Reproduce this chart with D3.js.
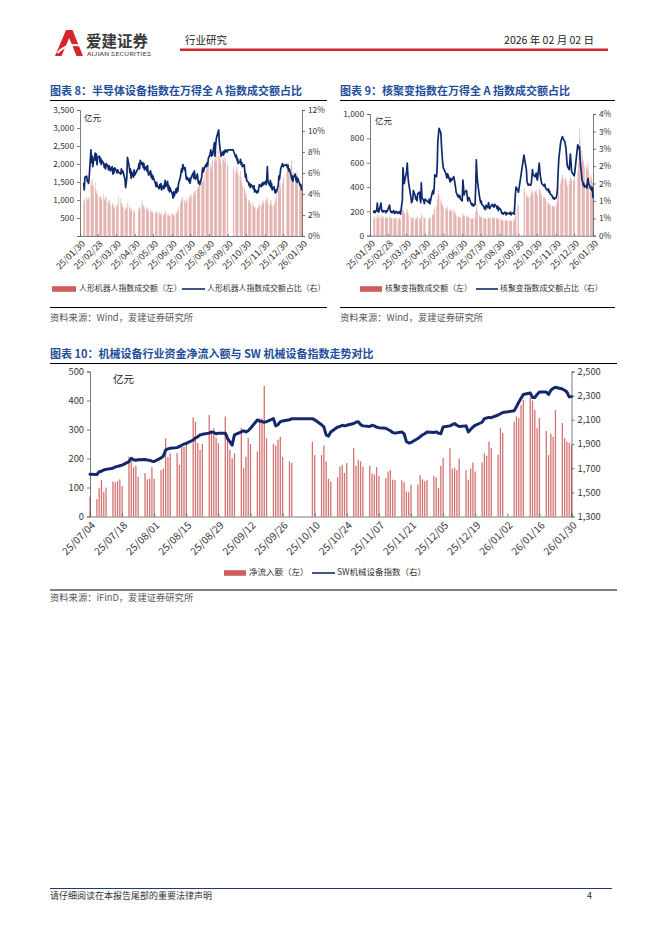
<!DOCTYPE html>
<html><head><meta charset="utf-8">
<script src="https://cdn.jsdelivr.net/npm/d3@7/dist/d3.min.js"></script>
<style>
body{margin:0;background:#fff;}
svg{display:block;font-family:"Noto Sans CJK SC","Noto Sans",sans-serif;}
</style></head><body>
<svg id="page" width="662" height="936"></svg>
<script>
// ---------------- DATA ----------------
// exchange holidays (weekdays without trading)
const holidays = ["2025-04-04","2025-05-01","2025-05-02","2025-05-05","2025-06-02",
  "2025-10-01","2025-10-02","2025-10-03","2025-10-06","2025-10-07","2025-10-08",
  "2026-01-01","2026-01-02"];

// Chart 8 axis labels
const c8TickLabels = ["25/01/30","25/02/28","25/03/30","25/04/30","25/05/30","25/06/30","25/07/30",
  "25/08/30","25/09/30","25/10/30","25/11/30","25/12/30","26/01/30"];
const c8LeftTicks = [0,500,1000,1500,2000,2500,3000,3500];
const c8RightTicks = [0,2,4,6,8,10,12];
// 指数成交额 (亿元), trading days 2025-02-05 .. 2026-01-30
const semiAmount = [
  1000,950,1050,1080,1020,990,1040,1100,1550,1400,1590,1450,1380,1500,1300,1250,1180,1150,
  1100,1050,1120,1000,1080,1170,1020,980,1050,1100,960,900,980,1000,850,920,880,800,860,760,820,
  900,850,1100,1050,920,880,840,800,760,720,780,800,920,850,780,740,700,760,680,720,650,
  700,800,820,760,1000,900,850,800,760,820,720,780,700,680,740,660,700,640,680,
  660,620,700,640,600,680,620,580,650,600,560,620,700,650,600,560,620,540,580,600,
  620,560,600,580,640,620,700,680,800,900,950,1050,1000,1080,1000,950,920,1000,1050,980,1100,1050,1120,
  1150,1100,1200,1250,1180,1280,1300,1350,1380,1450,1400,1500,1550,1480,1570,1700,1800,1900,1850,2000,1950,
  1900,2000,1850,2050,2100,2150,2050,2200,2100,2350,2410,2200,2100,2250,2000,2150,2100,2200,2050,2150,2000,1950,
  1900,1850,1800,1920,1700,1850,1750,1660,1800,1550,1480,1400,1350,1300,1200,1150,1050,
  1000,950,1000,900,880,950,850,820,760,800,720,780,800,850,900,820,880,950,1000,900,
  950,1000,1080,1020,900,850,950,1000,880,820,900,860,950,1050,1200,1300,1250,1400,1470,1350,1450,1550,1640,
  1800,1900,2060,2000,1850,1950,2110,1750,1600,1800,1650,1700,1550,1830,1600,1500,1450,1380,1400,1450];
// 成交额占比 (%)
const semiShare = [
  5.0,4.4,5.6,5.7,5.2,5.3,5.0,5.5,8.2,7.0,7.6,6.6,7.0,7.9,7.2,7.8,6.8,7.5,
  7.6,7.0,7.4,6.8,7.2,6.9,6.5,6.8,6.4,6.9,6.6,6.3,6.7,6.5,6.2,6.6,5.9,6.4,6.0,6.5,6.2,
  6.0,6.3,6.1,5.9,6.4,6.0,6.2,6.1,5.4,4.6,5.0,5.6,7.5,6.6,6.0,6.4,5.5,6.1,5.6,6.3,5.8,
  6.5,6.9,6.4,7.2,6.8,7.0,6.5,6.9,6.3,6.6,6.2,6.7,6.0,5.8,6.2,5.6,5.9,5.4,5.7,
  5.0,4.7,5.1,4.8,4.5,4.9,4.6,5.0,4.4,4.8,4.5,4.9,5.3,4.7,5.2,4.4,4.8,4.2,4.6,4.1,
  4.0,3.6,4.2,3.8,4.5,4.1,4.6,4.3,5.0,5.6,6.0,6.4,6.1,6.8,6.3,6.5,5.8,5.4,5.6,5.2,5.5,5.0,5.4,
  5.6,6.0,5.5,6.2,5.7,5.4,5.9,5.3,5.0,5.2,4.9,5.6,6.2,6.5,6.1,6.4,6.8,6.6,7.0,6.7,7.4,
  7.8,8.2,7.6,8.0,7.7,8.9,7.6,8.6,9.2,9.5,10.1,9.0,8.4,8.1,7.6,8.0,7.7,8.1,7.9,8.2,8.0,8.2,
  8.2,8.0,7.5,7.7,7.2,7.4,6.9,7.1,7.3,6.8,7.0,6.6,6.8,6.1,5.6,5.9,5.3,
  5.1,4.8,5.0,4.6,4.9,4.7,4.5,4.8,4.2,4.4,4.1,4.3,4.2,4.6,4.9,4.7,5.0,4.8,5.1,4.9,
  5.2,4.9,5.4,6.6,5.2,4.8,5.3,4.6,5.0,4.4,4.7,4.3,4.1,4.4,4.2,4.8,5.7,5.4,5.9,6.4,6.9,6.6,6.7,
  6.8,6.5,6.7,6.2,6.4,5.8,5.4,5.7,5.2,5.6,5.9,5.3,5.6,5.1,5.5,5.0,4.8,4.9,4.5,4.4];

// Chart 9
const c9TickLabels = c8TickLabels;
const c9LeftTicks = [0,200,400,600,800,1000];
const c9RightTicks = [0,0.5,1,1.5,2,2.5,3,3.5];
const fusionAmount = [
  150,140,160,150,170,140,150,160,170,150,140,150,160,145,150,155,140,150,
  160,150,140,150,140,150,140,135,145,150,140,135,150,140,135,200,230,210,190,180,200,
  220,190,170,160,140,150,145,150,140,135,150,140,160,150,140,135,180,160,150,145,150,
  140,150,140,150,170,180,170,210,230,240,300,330,370,340,300,280,260,250,230,
  230,220,210,240,210,200,220,200,210,220,200,190,180,160,150,160,150,155,145,150,
  190,170,160,165,170,160,150,155,150,145,140,140,145,140,145,200,260,230,200,170,160,150,155,
  150,145,140,145,135,150,140,155,145,140,145,150,145,150,140,150,145,140,145,130,140,
  135,130,125,130,120,130,125,120,130,125,125,120,130,120,125,130,125,150,180,230,260,250,
  360,390,350,330,320,310,320,330,350,380,360,340,370,360,380,350,330,
  400,380,360,340,330,320,310,320,300,290,280,270,260,250,260,250,240,250,240,235,
  250,280,310,360,400,430,450,480,500,470,460,480,460,430,410,420,450,480,470,460,450,470,480,
  520,600,700,880,780,700,650,620,600,560,580,540,560,600,520,480,500,460,440,420];
const fusionShare = [
  0.68,0.72,0.66,0.74,0.94,0.70,0.68,0.72,0.94,0.74,0.70,0.68,0.72,0.70,0.66,0.72,0.70,0.74,
  0.88,0.74,0.68,0.70,0.66,0.72,0.64,0.68,0.66,0.70,0.64,0.68,0.66,0.70,0.62,1.03,1.95,1.70,1.50,1.60,1.85,
  2.09,1.75,1.55,1.10,0.95,1.00,1.05,1.30,1.15,1.05,1.10,1.00,1.20,1.25,1.05,0.95,1.52,1.10,1.00,0.92,1.05,
  0.95,1.05,0.92,1.00,1.25,1.30,1.20,1.35,1.75,1.70,2.00,2.70,2.90,3.09,2.95,2.60,2.32,2.10,1.95,
  1.80,1.72,1.66,1.78,1.62,1.55,1.65,1.58,1.60,1.70,1.62,1.50,1.40,1.25,1.12,1.17,1.10,1.15,1.05,1.00,
  1.60,1.40,1.17,1.25,1.30,1.15,1.00,1.05,1.10,0.95,0.90,0.88,0.92,0.85,0.90,1.40,2.18,1.80,1.55,1.15,1.05,0.95,1.00,
  0.90,0.85,0.78,0.82,0.75,0.88,0.80,0.95,0.85,0.78,0.82,0.90,0.86,0.88,0.82,0.90,0.84,0.78,0.85,0.72,0.80,
  0.75,0.68,0.64,0.66,0.62,0.68,0.64,0.60,0.66,0.63,0.65,0.62,0.68,0.60,0.64,0.66,0.62,0.90,1.20,1.40,1.30,1.25,
  2.32,2.20,1.90,1.55,1.50,1.45,1.48,1.45,1.50,1.70,1.90,1.75,1.70,1.75,1.80,1.65,1.60,
  2.09,1.85,1.70,1.60,1.50,1.45,1.42,1.48,1.40,1.35,1.30,1.35,1.25,1.28,1.20,1.15,1.10,1.07,1.10,1.05,
  1.10,1.20,1.40,1.87,2.20,2.67,2.75,2.80,2.85,2.80,2.70,2.60,2.46,2.20,2.00,1.90,2.10,2.35,2.10,1.85,1.75,1.72,1.80,
  2.61,2.58,2.50,2.55,2.20,1.60,1.55,1.45,1.50,1.40,1.45,1.37,1.55,1.65,1.50,1.35,1.40,1.30,1.38,1.10];

// Chart 10
const c10TickLabels = ["25/07/04","25/07/18","25/08/01","25/08/15","25/08/29","25/09/12","25/09/26",
  "25/10/10","25/10/24","25/11/07","25/11/21","25/12/05","25/12/19","26/01/02","26/01/16","26/01/30"];
const c10LeftTicks = [0,100,200,300,400,500];
const c10RightTicks = [1300,1500,1700,1900,2100,2300,2500];
// 净流入额 (亿元), trading days 2025-07-04 .. 2026-01-30
const mechInflow = [
  68,60,98,126,84,100,120,118,122,128,105,206,190,170,175,137,150,128,130,170,
  130,160,165,270,205,218,218,178,245,240,250,342,327,253,230,250,350,292,305,272,253,
  345,283,230,201,218,305,167,206,270,250,224,338,338,450,270,250,245,265,275,205,190,185,
  258,212,212,245,190,130,120,135,172,178,150,184,236,175,195,190,172,
  175,148,145,170,140,133,155,160,127,125,125,118,86,84,110,110,143,128,122,125,
  140,135,98,175,202,236,165,168,160,200,160,127,165,186,155,186,218,210,258,236,213,305,288,
  327,345,339,385,402,410,400,367,305,340,295,212,285,275,367,322,270,258,254,247];
// SW机械设备指数
const mechIndex = [
  1650,1648,1670,1675,1685,1690,1700,1710,1715,1720,1725,1754,1782,1770,1765,1770,1772,1768,1765,1758,
  1755,1785,1800,1850,1860,1865,1870,1880,1890,1900,1905,1933,1950,1960,1975,1980,1990,2000,1995,1985,1990,
  1990,1945,1920,1890,1975,2000,2010,2000,2010,2030,2099,2090,2085,2080,2085,2110,2050,2060,2085,2090,2100,2110,
  2110,2100,2060,2040,1975,1965,2000,2040,2045,2055,2050,2055,2070,2080,2085,2060,2050,
  2045,2055,2050,2040,2035,2030,2020,2010,1995,1990,2000,1985,1920,1908,1912,1945,1960,1975,1985,2000,
  1995,2000,1990,1985,2040,2050,2060,2070,2055,2045,2050,2000,2020,2040,2055,2080,2110,2115,2120,2118,2140,2150,2160,
  2175,2209,2245,2278,2310,2322,2285,2285,2310,2330,2330,2310,2345,2360,2370,2355,2345,2330,2290,2292];

// ---------------- HELPERS ----------------
const parse = d3.timeParse("%Y-%m-%d");
const parseShort = d3.timeParse("%y/%m/%d");
const keyFmt = d3.timeFormat("%Y-%m-%d");
function tradingDays(s, e) {
  const hol = new Set(holidays), out = [];
  for (let d = parse(s); d <= parse(e); d = d3.timeDay.offset(d, 1)) {
    const wd = d.getDay();
    if (wd === 0 || wd === 6 || hol.has(keyFmt(d))) continue;
    out.push(d);
  }
  return out;
}
const page = d3.select("#page");
const FONT = '"Noto Sans CJK SC","Noto Sans",sans-serif';
const AXC = "#595959", TXC = "#333";

function txt(g, x, y, s, size, opts = {}) {
  const t = g.append("text").attr("x", x).attr("y", y).attr("font-size", size)
    .attr("fill", opts.fill || TXC).text(s);
  if (opts.anchor) t.attr("text-anchor", opts.anchor);
  if (opts.weight) t.attr("font-weight", opts.weight);
  if (opts.base) t.attr("dominant-baseline", opts.base);
  return t;
}

function dualChart(c) {
  const g = page.append("g");
  const dates = tradingDays(c.first, c.last);
  const x = d3.scaleTime().domain([parseShort(c.tickLabels[0]), parseShort(c.tickLabels[c.tickLabels.length - 1])]).range([c.x0, c.x1]);
  const yL = d3.scaleLinear().domain(c.leftDomain).range([c.yB, c.yT]);
  const yR = d3.scaleLinear().domain(c.rightDomain).range([c.yB, c.yT]);
  const n = Math.min(dates.length, c.bars.length, c.line.length);

  // bars
  g.append("g").selectAll("rect").data(d3.range(n)).join("rect")
    .attr("x", i => x(dates[i]) - c.barW / 2).attr("width", c.barW)
    .attr("y", i => yL(c.bars[i])).attr("height", i => yL(0) - yL(c.bars[i]))
    .attr("fill", c.barColor).attr("fill-opacity", c.barOpacity);

  // axes
  const axL = d3.axisLeft(yL).tickValues(c.leftTicks).tickSizeOuter(0).tickSize(3).tickPadding(3)
    .tickFormat(c.leftFmt);
  const axR = d3.axisRight(yR).tickValues(c.rightTicks).tickSizeOuter(0).tickSize(3).tickPadding(3)
    .tickFormat(c.rightFmt);
  const tickDates = c.tickLabels.map(parseShort);
  const axB = d3.axisBottom(x).tickValues(tickDates).tickSizeOuter(0).tickSize(-c.bTick)
    .tickFormat((d, i) => c.tickLabels[i]);

  const gl = g.append("g").attr("transform", `translate(${c.x0},0)`).call(axL);
  const gr = g.append("g").attr("transform", `translate(${c.x1},0)`).call(axR);
  const gb = g.append("g").attr("transform", `translate(0,${c.yB})`).call(axB);
  [gl, gr, gb].forEach(a => {
    a.attr("font-family", FONT).attr("font-size", c.tickSize);
    a.selectAll("path,line").attr("stroke", AXC).attr("stroke-width", 0.8);
    a.selectAll("text").attr("fill", TXC);
  });
  gb.selectAll("text").attr("y", 0).attr("x", 0).attr("dy", "0.35em")
    .attr("transform", `translate(${c.lblDx},${c.lblDy}) rotate(-45)`)
    .style("text-anchor", "end").attr("font-size", c.xLblSize);

  // line
  const line = d3.line().x(i => x(dates[i])).y(i => yR(c.line[i])).curve(d3.curveLinear);
  g.append("path").datum(d3.range(n)).attr("d", line).attr("fill", "none")
    .attr("stroke", c.lineColor).attr("stroke-width", c.lineW)
    .attr("stroke-linejoin", "round").attr("stroke-linecap", "round");

  // unit
  txt(g, c.unitX, c.unitY, "亿元", c.unitSize, { fill: "#222", base: "middle" });
  return g;
}

// ---------------- HEADER ----------------
const hdr = page.append("g");
hdr.append("path").attr("d", "M55,56 L66,30 L72.5,30 L83,56 L76.5,56 L69.2,38 L61.5,56 Z").attr("fill", "#d6262d");
hdr.append("path").attr("d", "M57.5,53 Q66,43 81,45.5").attr("stroke", "#fff").attr("stroke-width", 1.8).attr("fill", "none");
txt(hdr, 86, 47, "爱建证券", 15.5, { fill: "#3a3a3a", weight: 700 });
txt(hdr, 87, 56, "AIJIAN SECURITIES", 5.3, { fill: "#3a3a3a" }).attr("textLength", 64).attr("lengthAdjust", "spacingAndGlyphs");
txt(hdr, 185, 44, "行业研究", 10.5, { fill: "#222" });
txt(hdr, 594, 44, "2026 年 02 月 02 日", 10.5, { fill: "#222", anchor: "end" });
hdr.append("rect").attr("x", 180).attr("y", 48.5).attr("width", 428).attr("height", 2.5).attr("fill", "#d7272e");

// ---------------- TITLES ----------------
const TITLE_C = "#1f4e9a";
function title(x, y, s, x2, ly) {
  txt(page, x, y, s, 11, { fill: TITLE_C, weight: 700 });
  page.append("line").attr("x1", x).attr("x2", x2).attr("y1", ly).attr("y2", ly).attr("stroke", "#000").attr("stroke-width", 1);
}
title(50, 95, "图表 8：半导体设备指数在万得全 A 指数成交额占比", 327, 100.5);
title(340, 95, "图表 9：核聚变指数在万得全 A 指数成交额占比", 615, 100.5);
title(50, 358, "图表 10：机械设备行业资金净流入额与 SW 机械设备指数走势对比", 617, 363.5);

// ---------------- CHARTS ----------------
const fmtC = d3.format(",");
dualChart({
  first: "2025-02-05", last: "2026-01-30", tickLabels: c8TickLabels,
  x0: 80, x1: 302, yT: 110, yB: 236,
  leftDomain: [0, 3500], rightDomain: [0, 12], leftTicks: c8LeftTicks, rightTicks: c8RightTicks,
  leftFmt: v => v === 0 ? "" : fmtC(v), rightFmt: v => v + "%",
  bars: semiAmount, line: semiShare, barW: 0.7, barColor: "#c0504d", barOpacity: 0.42,
  lineColor: "#0e2a6c", lineW: 1.7, bTick: 2, tickSize: 8.3, xLblSize: 8.9,
  lblDx: 3, lblDy: 6, unitX: 84, unitY: 119, unitSize: 8.5
});
dualChart({
  first: "2025-02-05", last: "2026-01-30", tickLabels: c9TickLabels,
  x0: 370, x1: 593, yT: 114, yB: 235.7,
  leftDomain: [0, 1000], rightDomain: [0, 3.5], leftTicks: c9LeftTicks, rightTicks: c9RightTicks,
  leftFmt: v => fmtC(v), rightFmt: v => Math.round(v) + "%",
  bars: fusionAmount, line: fusionShare, barW: 0.7, barColor: "#c0504d", barOpacity: 0.42,
  lineColor: "#0e2a6c", lineW: 1.7, bTick: 2, tickSize: 8.3, xLblSize: 8.9,
  lblDx: 3, lblDy: 6, unitX: 375, unitY: 122, unitSize: 8.5
});
dualChart({
  first: "2025-07-04", last: "2026-01-30", tickLabels: c10TickLabels,
  x0: 90, x1: 571.5, yT: 371.5, yB: 516.5,
  leftDomain: [0, 500], rightDomain: [1300, 2500], leftTicks: c10LeftTicks, rightTicks: c10RightTicks,
  leftFmt: v => fmtC(v), rightFmt: v => fmtC(v),
  bars: mechInflow, line: mechIndex, barW: 1.3, barColor: "#cc5a5a", barOpacity: 0.85,
  lineColor: "#13296b", lineW: 3, bTick: 3, tickSize: 9.3, xLblSize: 10.2,
  lblDx: 3, lblDy: 7, unitX: 113, unitY: 380.5, unitSize: 10.5
});

// ---------------- LEGENDS & SOURCES ----------------
function legend(y, items, size) {
  items.forEach(it => {
    if (it.type === "bar") page.append("rect").attr("x", it.x).attr("y", y - 2.8).attr("width", it.w).attr("height", 5.6).attr("fill", "#cf5d5d");
    else page.append("line").attr("x1", it.x).attr("x2", it.x + it.w).attr("y1", y).attr("y2", y).attr("stroke", "#13296b").attr("stroke-width", 1.6);
    txt(page, it.tx, y, it.label, size, { fill: "#333", base: "middle" });
  });
}
legend(289, [
  { type: "bar", x: 52, w: 24, tx: 79, label: "人形机器人指数成交额（左）" },
  { type: "line", x: 182, w: 23, tx: 207, label: "人形机器人指数成交额占比（右）" }], 7.9);
legend(289, [
  { type: "bar", x: 360, w: 22, tx: 385, label: "核聚变指数成交额（左）" },
  { type: "line", x: 476, w: 22, tx: 500, label: "核聚变指数成交额占比（右）" }], 7.9);
legend(573, [
  { type: "bar", x: 224, w: 22, tx: 249, label: "净流入额（左）" },
  { type: "line", x: 312, w: 23, tx: 337, label: "SW机械设备指数（右）" }], 8.5);

function source(x, x2, ly, ty, s) {
  page.append("line").attr("x1", x).attr("x2", x2).attr("y1", ly).attr("y2", ly).attr("stroke", "#000").attr("stroke-width", 1);
  txt(page, x, ty, s, 9.3, { fill: "#595959", base: "middle" });
}
source(50, 327, 307.5, 318, "资料来源：Wind，爱建证券研究所");
source(340, 615, 307.5, 318, "资料来源：Wind，爱建证券研究所");
source(50, 617, 590, 598.5, "资料来源：iFinD，爱建证券研究所");

// ---------------- FOOTER ----------------
page.append("line").attr("x1", 50).attr("x2", 612).attr("y1", 888.5).attr("y2", 888.5).attr("stroke", "#1f3b73").attr("stroke-width", 1);
txt(page, 50, 897, "请仔细阅读在本报告尾部的重要法律声明", 9, { fill: "#333", base: "middle" });
txt(page, 592, 897, "4", 9, { fill: "#333", base: "middle", anchor: "end" });
</script>
</body></html>
